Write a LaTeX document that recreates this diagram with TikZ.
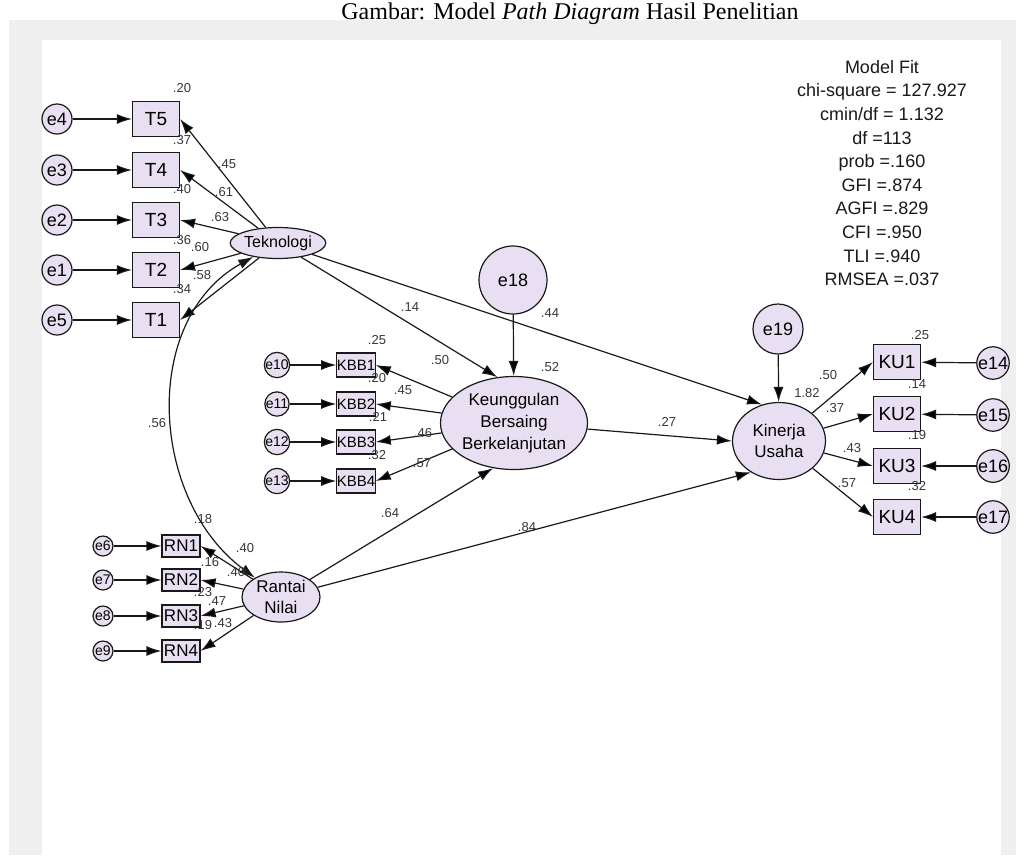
\documentclass[tikz,border=0pt]{standalone}
\usepackage{fontspec}
\setmainfont{Liberation Sans}
\newfontfamily\capfont{Liberation Serif}
\usetikzlibrary{arrows.meta,shapes.geometric}
\definecolor{amos}{RGB}{232,224,242}
\definecolor{panel}{RGB}{239,239,239}
\definecolor{numtxt}{RGB}{55,55,55}
\definecolor{ink}{RGB}{25,25,25}

\begin{document}
\begin{tikzpicture}[x=1pt, y=-1pt,
        obs/.style={draw=ink, rectangle, fill=amos, line width=1.2pt, inner sep=0pt,
            minimum width=47pt, minimum height=35pt, font=\fontsize{19}{19}\selectfont},
        obsS/.style={obs, minimum width=38pt, minimum height=24pt, font=\fontsize{15}{15}\selectfont},
        err/.style={draw=ink, circle, fill=amos, line width=1.2pt, inner sep=0pt,
            minimum size=30pt, font=\fontsize{18}{18}\selectfont},
        errS/.style={err, minimum size=22pt, font=\fontsize{14}{14}\selectfont},
        lat/.style={draw=ink, ellipse, fill=amos, line width=1.2pt, inner sep=0pt,
            align=center, font=\fontsize{17}{21}\selectfont},
        ar/.style={-{Latex[length=15pt,width=10pt]}, draw=ink, line width=1.2pt},
        cov/.style={{Latex[length=15pt,width=10pt]}-{Latex[length=15pt,width=10pt]}, draw=ink, line width=1.2pt},
        num/.style={inner sep=0pt, text=numtxt, font=\fontsize{13}{13}\selectfont},
    ]

    \useasboundingbox (0,0) rectangle (1016,855);
    \fill[panel] (9,20) rectangle (1016,855);
    \fill[white] (42,40) rectangle (1001,855);
    \node[anchor=base, inner sep=0pt, font=\capfont\fontsize{24}{24}\selectfont] (judul) at (570,19)
        {Gambar: Model \textit{Path Diagram} Hasil Penelitian};

    % Teknologi
    \node[lat, minimum width=76pt, minimum height=31pt, font=\fontsize{16}{16}\selectfont] (tek) at (278,243) {Teknologi};
    \node[obs](T5) at (156,119) {T5};
    \node[obs](T4) at (156,170) {T4};
    \node[obs](T3) at (156,220) {T3};
    \node[obs](T2) at (156,270) {T2};
    \node[obs](T1) at (156,320) {T1};
    \node[err](e4) at (57,119) {e4};
    \node[err](e3) at (57,170) {e3};
    \node[err](e2) at (57,220) {e2};
    \node[err](e1) at (57,270) {e1};
    \node[err](e5) at (57,320) {e5};

    % Keunggulan Bersaing Berkelanjutan
    \node[lat, minimum width=138pt, minimum height=93pt, font=\fontsize{17}{22}\selectfont] (keu) at (514,423)
        {Keunggulan\\Bersaing\\Berkelanjutan};
    \node[err, minimum width=62pt, minimum height=68pt](e18) at (513,280) {e18};
    \node[obsS](KBB1) at (356,365) {KBB1};
    \node[obsS](KBB2) at (356,404) {KBB2};
    \node[obsS](KBB3) at (356,442) {KBB3};
    \node[obsS](KBB4) at (356,481) {KBB4};
    \node[errS](e10) at (277,365) {e10};
    \node[errS](e11) at (277,404) {e11};
    \node[errS](e12) at (277,442) {e12};
    \node[errS](e13) at (277,481) {e13};

    % Rantai Nilai
    \node[lat, minimum width=78pt, minimum height=50pt] (rn) at (281,597) {Rantai\\Nilai};
    \node[obsS, minimum height=22pt, font=\fontsize{17}{17}\selectfont](RN1) at (181,546) {RN1};
    \node[obsS, minimum height=22pt, font=\fontsize{17}{17}\selectfont](RN2) at (181,580) {RN2};
    \node[obsS, minimum height=22pt, font=\fontsize{17}{17}\selectfont](RN3) at (181,616) {RN3};
    \node[obsS, minimum height=22pt, font=\fontsize{17}{17}\selectfont](RN4) at (181,651) {RN4};
    \node[errS, minimum size=20pt](e6) at (103,546) {e6};
    \node[errS, minimum size=20pt](e7) at (103,580) {e7};
    \node[errS, minimum size=20pt](e8) at (103,616) {e8};
    \node[errS, minimum size=20pt](e9) at (103,651) {e9};

    % Kinerja Usaha
    \node[lat, minimum width=93pt, minimum height=77pt] (kin) at (779,441) {Kinerja\\Usaha};
    \node[err, minimum width=46pt, minimum height=50pt](e19) at (778,329) {e19};
    \node[obs](KU1) at (897,362) {KU1};
    \node[obs](KU2) at (897,414) {KU2};
    \node[obs](KU3) at (897,466) {KU3};
    \node[obs](KU4) at (897,517) {KU4};
    \node[err, minimum size=31pt](e14) at (993,363) {e14};
    \node[err, minimum size=31pt](e15) at (993,415) {e15};
    \node[err, minimum size=31pt](e16) at (993,466) {e16};
    \node[err, minimum size=31pt](e17) at (993,517) {e17};

    \node[align=center, inner sep=0pt, anchor=north, font=\fontsize{18}{23.6}\selectfont, text=ink] (fit) at (882,60)
        {Model Fit\\chi-square = 127.927\\cmin/df = 1.132\\df =113\\prob =.160\\GFI =.874\\AGFI =.829\\CFI =.950\\TLI =.940\\RMSEA =.037};

    \path[ar]
    (e4) edge (T5) (e3) edge (T4) (e2) edge (T3) (e1) edge (T2) (e5) edge (T1)
    (tek) edge (T5.east) edge (T4.east) edge (T3.east) edge (T2.east) edge (T1.east)
    (e10) edge (KBB1) (e11) edge (KBB2) (e12) edge (KBB3) (e13) edge (KBB4)
    (keu) edge (KBB1.east) edge (KBB2.east) edge (KBB3.east) edge (KBB4.east)
    (e6) edge (RN1) (e7) edge (RN2) (e8) edge (RN3) (e9) edge (RN4)
    (rn) edge (RN1.east) edge (RN2.east) edge (RN3.east) edge (RN4.east)
    (e14) edge (KU1) (e15) edge (KU2) (e16) edge (KU3) (e17) edge (KU4)
    (kin) edge (KU1.west) edge (KU2.west) edge (KU3.west) edge (KU4.west)

    (e18) edge (keu)
    (e19) edge (kin)
    (tek) edge (keu.110) edge (kin.115)
    (rn) edge (keu.245) edge (kin.228)
    (keu) edge (kin.west)
    ;
    \draw[cov] (tek) .. controls (140,320) and (150,500) .. (rn);

    % estimates
    \node[num] (r5) at (182,88) {.20};
    \node[num] (r4) at (182,140) {.37};
    \node[num] (r3) at (182,189) {.40};
    \node[num] (r2) at (182,240) {.36};
    \node[num] (r1) at (182,289) {.34};
    \node[num] (l5) at (227,164) {.45};
    \node[num] (l4) at (224,192) {.61};
    \node[num] (l3) at (220,217) {.63};
    \node[num] (l2) at (200,247) {.60};
    \node[num] (l1) at (202,275) {.58};
    \node[num] (kov) at (157,423) {.56};

    \node[num] (rk1) at (377,340) {.25};
    \node[num] (rk2) at (377,378) {.20};
    \node[num] (rk3) at (378,417) {.21};
    \node[num] (rk4) at (377,455) {.32};
    \node[num] (lk1) at (440,360) {.50};
    \node[num] (lk2) at (403,390) {.45};
    \node[num] (lk3) at (423,433) {.46};
    \node[num] (lk4) at (422,463) {.57};
    \node[num] (rkeu) at (550,367) {.52};
    \node[num] (ptk) at (410,307) {.14};
    \node[num] (ptu) at (550,313) {.44};

    \node[num] (rr1) at (203,519) {.18};
    \node[num] (lr1) at (245,548) {.40};
    \node[num] (rr2) at (210,562) {.16};
    \node[num] (lr2) at (236,572) {.40};
    \node[num] (rr3) at (203,592) {.23};
    \node[num] (lr3) at (217,601) {.47};
    \node[num] (rr4) at (203,625) {.19};
    \node[num] (lr4) at (223,623) {.43};
    \node[num] (prk) at (390,513) {.64};
    \node[num] (pru) at (527,527) {.84};
    \node[num] (pku) at (667,422) {.27};

    \node[num] (ru1) at (920,335) {.25};
    \node[num] (ru2) at (917,384) {.14};
    \node[num] (ru3) at (917,435) {.19};
    \node[num] (ru4) at (917,486) {.32};
    \node[num] (lu1) at (828,375) {.50};
    \node[num] (rkin) at (807,393) {1.82};
    \node[num] (lu2) at (835,408) {.37};
    \node[num] (lu3) at (852,448) {.43};
    \node[num] (lu4) at (847,483) {.57};
\end{tikzpicture}
\end{document}
